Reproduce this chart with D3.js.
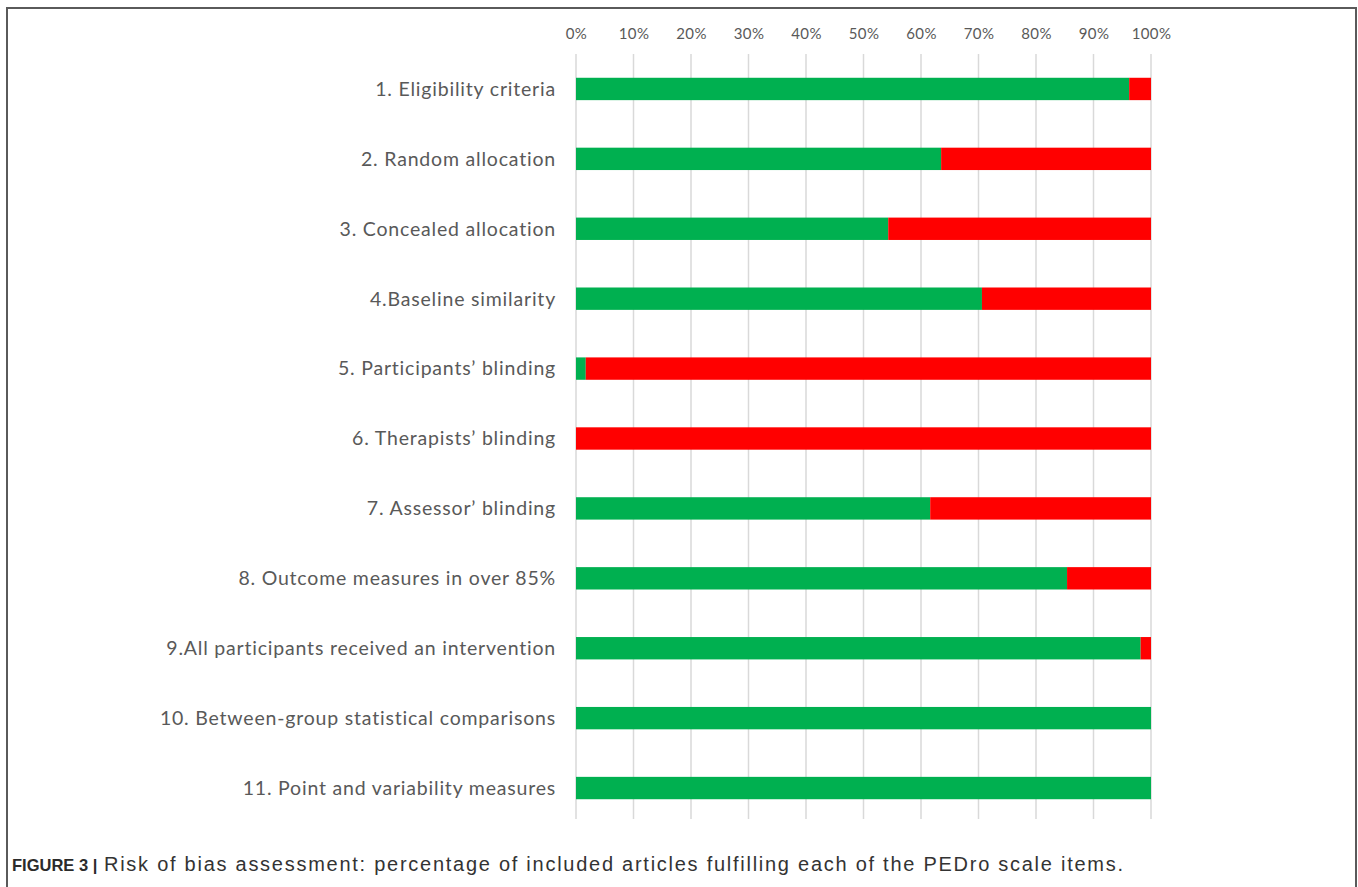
<!DOCTYPE html>
<html>
<head>
<meta charset="utf-8">
<script src="https://cdn.jsdelivr.net/npm/d3@7"></script>
<style>
  html, body { margin: 0; padding: 0; background: #fff; }
  #chart { width: 1358px; height: 887px; }
</style>
</head>
<body>
<div id="chart"></div>
<script>
// PEDro scale items, top to bottom
const items = [
  '1. Eligibility criteria',
  '2. Random allocation',
  '3. Concealed allocation',
  '4.Baseline similarity',
  '5. Participants\u2019 blinding',
  '6. Therapists\u2019 blinding',
  '7. Assessor\u2019 blinding',
  '8. Outcome measures in over 85%',
  '9.All participants received an intervention',
  '10. Between-group statistical comparisons',
  '11. Point and variability measures'
];
// percentage fulfilling (green), rest is red
const fulfilled = [96.2, 63.5, 54.3, 70.6, 1.7, 0, 61.6, 85.4, 98.2, 100, 100];
const notFulfilled = fulfilled.map(v => 100 - v);
const ticks = [0, 10, 20, 30, 40, 50, 60, 70, 80, 90, 100];
const captionLead = 'FIGURE 3 |';
const caption = 'Risk of bias assessment: percentage of included articles fulfilling each of the PEDro scale items.';

const W = 1358, H = 887;
const svg = d3.select('#chart').append('svg')
  .attr('width', W)
  .attr('height', H);

// figure frame
svg.append('path')
  .attr('d', `M7,${H + 5} V8 H1356 V${H + 5}`)
  .attr('fill', 'none')
  .attr('stroke', '#5a5a5a')
  .attr('stroke-width', 2);

const x = d3.scaleLinear().domain([0, 100]).range([576, 1151]);
const y = d3.scaleBand().domain(items).range([54, 823]).paddingInner(0.68).paddingOuter(0.34);

// gridlines
svg.append('g')
  .selectAll('line')
  .data(ticks)
  .join('line')
  .attr('x1', d => x(d)).attr('x2', d => x(d))
  .attr('y1', 54).attr('y2', 819)
  .attr('stroke', '#d9d9d9')
  .attr('stroke-width', 1.5);

// top axis labels
const axis = d3.axisTop(x).tickValues(ticks).tickFormat(d => d + '%').tickSize(0).tickPadding(0);
svg.append('g')
  .attr('transform', 'translate(0,39)')
  .call(axis)
  .call(g => g.select('.domain').remove())
  .call(g => g.selectAll('text')
    .attr('fill', '#595959')
    .style('font', '15px Lato, sans-serif')
    .style('letter-spacing', '0.4px'));

// stacked bars
const stack = items.map((name, i) => ({ name, g: fulfilled[i], r: notFulfilled[i] }));
const gBars = svg.append('g');
gBars.selectAll('rect.g')
  .data(stack)
  .join('rect')
  .attr('class', 'g')
  .attr('x', x(0))
  .attr('y', d => y(d.name))
  .attr('width', d => x(d.g) - x(0))
  .attr('height', y.bandwidth())
  .attr('fill', '#00b050');
gBars.selectAll('rect.r')
  .data(stack)
  .join('rect')
  .attr('class', 'r')
  .attr('x', d => x(d.g))
  .attr('y', d => y(d.name))
  .attr('width', d => x(d.g + d.r) - x(d.g))
  .attr('height', y.bandwidth())
  .attr('fill', '#ff0000');

// category labels
svg.append('g')
  .selectAll('text')
  .data(items)
  .join('text')
  .attr('x', 556)
  .attr('y', d => y(d) + y.bandwidth() / 2)
  .attr('dy', '0.35em')
  .attr('text-anchor', 'end')
  .attr('fill', '#595959')
  .style('font', '19.5px Lato, sans-serif')
  .style('letter-spacing', '0.8px')
  .text(d => d);

// caption
svg.append('text')
  .attr('x', 12)
  .attr('y', 871)
  .style('font', 'bold 16.5px "Liberation Sans", Arial, sans-serif')
  .attr('fill', '#2b2b2b')
  .text(captionLead);
svg.append('text')
  .attr('x', 104)
  .attr('y', 871)
  .attr('textLength', 1019)
  .attr('lengthAdjust', 'spacing')
  .style('font', '20px "Liberation Sans", Arial, sans-serif')
  .attr('fill', '#333')
  .text(caption);
</script>
</body>
</html>
